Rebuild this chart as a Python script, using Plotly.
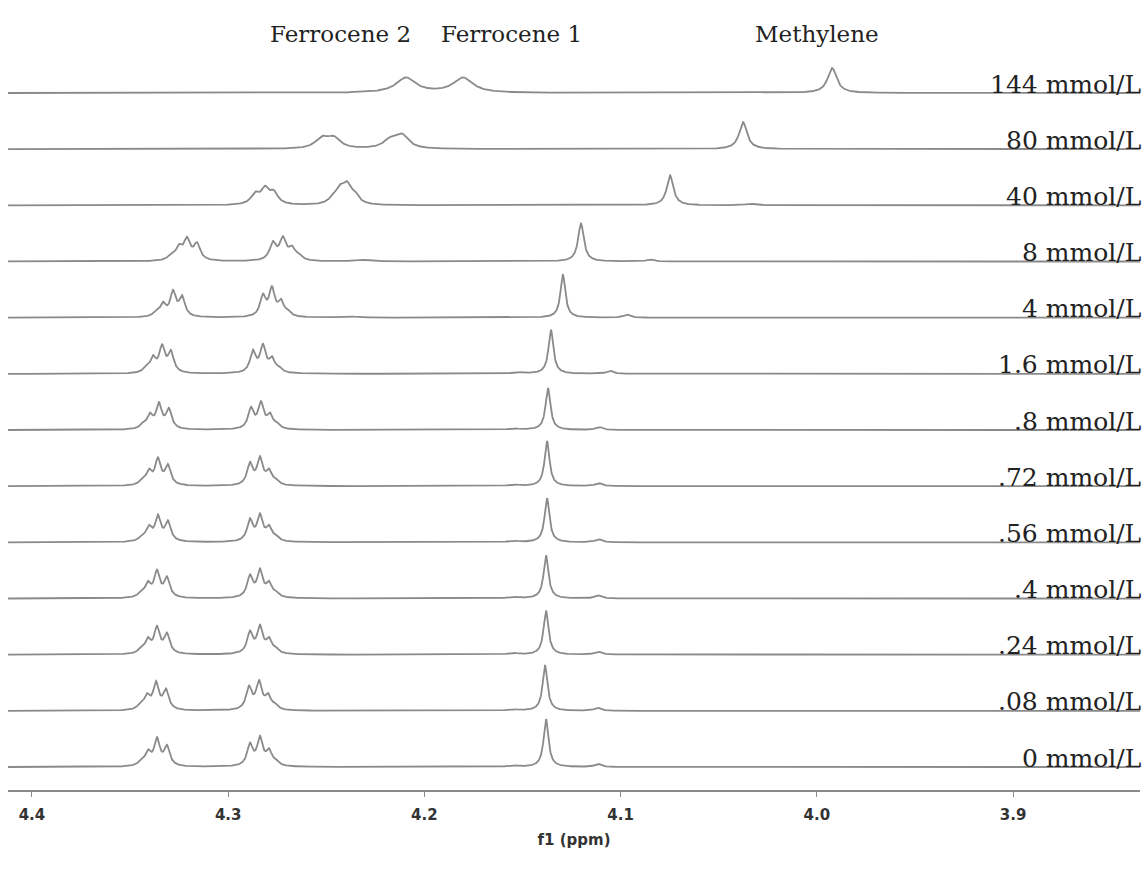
import numpy as np
import plotly.graph_objects as go

# Row labels (top to bottom)
labels = ["144 mmol/L", "80 mmol/L", "40 mmol/L", "8 mmol/L", "4 mmol/L",
          "1.6 mmol/L", ".8 mmol/L", ".72 mmol/L", ".56 mmol/L", ".4 mmol/L",
          ".24 mmol/L", ".08 mmol/L", "0 mmol/L"]

# Peak lists per spectrum: (shift ppm, height, FWHM ppm)
peaks_144 = [(4.2094, 15, 0.012), (4.1803, 15, 0.012), (3.9922, 25, 0.0055)]
peaks_80 = [(4.2522, 10, 0.008), (4.2461, 10, 0.008), (4.2175, 8, 0.008), (4.2114, 13, 0.008),
            (4.0376, 27, 0.0048)]
peaks_40 = [(4.2863, 10, 0.005), (4.2812, 15, 0.005), (4.2767, 11, 0.005),
            (4.2466, 5, 0.005), (4.2430, 13, 0.005), (4.2394, 17, 0.005), (4.2354, 8, 0.005),
            (4.0748, 30, 0.004), (4.0340, 1.5, 0.006)]
peaks_8 = [(4.3292, 4, 0.004), (4.3251, 12, 0.004), (4.3210, 20, 0.004), (4.3159, 16, 0.004),
           (4.2772, 17, 0.004), (4.2721, 21, 0.004), (4.2675, 11, 0.004), (4.2639, 4, 0.004),
           (4.1202, 38, 0.0035), (4.0850, 2, 0.004), (4.2313, 1.5, 0.008)]
peaks_4 = [(4.3368, 4, 0.0035), (4.3332, 12, 0.0035), (4.3281, 24, 0.0035), (4.3235, 19, 0.0035),
           (4.2823, 20, 0.0035), (4.2777, 27, 0.0035), (4.2731, 14, 0.0035), (4.2695, 4, 0.0035),
           (4.1294, 43, 0.003), (4.0967, 3, 0.004), (4.2389, 1.5, 0.008)]
peaks_1_6 = [(4.3419, 4, 0.0035), (4.3383, 14, 0.0035), (4.3337, 25, 0.0035), (4.3292, 20, 0.0035),
             (4.2874, 21, 0.0035), (4.2823, 26, 0.0035), (4.2777, 13, 0.0035), (4.2741, 4, 0.0035),
             (4.1355, 44, 0.003), (4.1054, 3, 0.004), (4.1523, 1.5, 0.006)]
peaks_0_8 = [(4.3434, 4, 0.0035), (4.3399, 13, 0.0035), (4.3353, 24, 0.0035), (4.3302, 19, 0.0035),
             (4.2884, 20, 0.0035), (4.2833, 25, 0.0035), (4.2787, 13, 0.0035), (4.2751, 4, 0.0035),
             (4.1370, 42, 0.003), (4.1110, 3, 0.004), (4.1543, 1.5, 0.006)]
peaks_0_72 = [(4.3439, 4, 0.0035), (4.3404, 13, 0.0035), (4.3358, 25, 0.0035), (4.3307, 19, 0.0035),
              (4.2889, 21, 0.0035), (4.2838, 26, 0.0035), (4.2792, 13, 0.0035), (4.2756, 4, 0.0035),
              (4.1375, 45, 0.003), (4.1112, 3, 0.004), (4.1545, 1.5, 0.006)]
peaks_0_56 = [(4.3439, 4, 0.0035), (4.3404, 13, 0.0035), (4.3358, 24, 0.0035), (4.3307, 19, 0.0035),
              (4.2889, 21, 0.0035), (4.2838, 25, 0.0035), (4.2792, 13, 0.0035), (4.2756, 4, 0.0035),
              (4.1375, 44, 0.003), (4.1113, 3, 0.004), (4.1546, 1.5, 0.006)]
peaks_0_4 = [(4.3444, 4, 0.0035), (4.3409, 13, 0.0035), (4.3363, 25, 0.0035), (4.3312, 19, 0.0035),
             (4.2889, 21, 0.0035), (4.2838, 26, 0.0035), (4.2792, 13, 0.0035), (4.2756, 4, 0.0035),
             (4.1380, 43, 0.003), (4.1115, 3, 0.004), (4.1548, 1.5, 0.006)]
peaks_0_24 = [(4.3444, 4, 0.0035), (4.3409, 13, 0.0035), (4.3363, 25, 0.0035), (4.3312, 19, 0.0035),
              (4.2889, 21, 0.0035), (4.2838, 26, 0.0035), (4.2792, 13, 0.0035), (4.2756, 4, 0.0035),
              (4.1380, 44, 0.003), (4.1115, 3, 0.004), (4.1548, 1.5, 0.006)]
peaks_0_08 = [(4.3449, 4, 0.0035), (4.3414, 13, 0.0035), (4.3368, 26, 0.0035), (4.3317, 19, 0.0035),
              (4.2894, 22, 0.0035), (4.2843, 27, 0.0035), (4.2797, 13, 0.0035), (4.2761, 4, 0.0035),
              (4.1385, 45, 0.003), (4.1117, 3, 0.004), (4.1550, 1.5, 0.006)]
peaks_0 = [(4.3444, 4, 0.0035), (4.3409, 13, 0.0035), (4.3363, 26, 0.0035), (4.3312, 19, 0.0035),
           (4.2889, 21, 0.0035), (4.2838, 27, 0.0035), (4.2792, 14, 0.0035), (4.2756, 4, 0.0035),
           (4.1380, 48, 0.003), (4.1115, 3, 0.004), (4.1548, 1.5, 0.006)]

spectra = [peaks_144, peaks_80, peaks_40, peaks_8, peaks_4, peaks_1_6, peaks_0_8,
           peaks_0_72, peaks_0_56, peaks_0_4, peaks_0_24, peaks_0_08, peaks_0]

top_labels = ["Ferrocene 2", "Ferrocene 1", "Methylene"]
top_label_ppm = [4.2425, 4.1554, 3.9998]

tick_vals = [4.4, 4.3, 4.2, 4.1, 4.0, 3.9]
tick_text = ["4.4", "4.3", "4.2", "4.1", "4.0", "3.9"]

X_LEFT, X_RIGHT = 4.4122, 3.8353
ROW0, ROW_STEP = 93.0, 56.17
PLOT_H = 790

ppm = np.linspace(X_LEFT, X_RIGHT, 4000)

fig = go.Figure()
for i, pk in enumerate(spectra):
    base = -(ROW0 + i * ROW_STEP)
    y = np.full_like(ppm, base)
    for c, h, w in pk:
        y += h / (1.0 + ((ppm - c) / (w / 2.0)) ** 2)
    fig.add_trace(go.Scatter(x=ppm, y=y, mode="lines",
                             line=dict(color="#8a8a8a", width=1.8),
                             hoverinfo="skip", showlegend=False))
    fig.add_annotation(x=1.0027, xref="paper", xanchor="right",
                       y=base + 9, yref="y", yanchor="middle",
                       text=labels[i], showarrow=False,
                       font=dict(family="DejaVu Serif", size=25, color="#222"))

for t, p in zip(top_labels, top_label_ppm):
    fig.add_annotation(x=p, xref="x", xanchor="center", y=-34, yref="y", yanchor="middle",
                       text=t, showarrow=False,
                       font=dict(family="DejaVu Serif", size=23, color="#222"))

fig.update_layout(
    width=1148, height=882,
    margin=dict(l=8, r=8, t=0, b=882 - PLOT_H),
    paper_bgcolor="white", plot_bgcolor="white",
    xaxis=dict(range=[X_LEFT, X_RIGHT], showgrid=False, zeroline=False,
               showline=True, linecolor="#8a8a8a", linewidth=2,
               ticks="outside", ticklen=5, tickwidth=1, tickcolor="#8a8a8a",
               tickvals=tick_vals, ticktext=tick_text,
               tickfont=dict(family="DejaVu Sans", size=15, color="#333", weight="bold"),
               ticklabelstandoff=5,
               title=dict(text="f1 (ppm)", standoff=11,
                          font=dict(family="DejaVu Sans", size=15, color="#333", weight="bold"))),
    yaxis=dict(range=[-PLOT_H, 0], visible=False, fixedrange=True),
)

fig.write_html("out.html")
